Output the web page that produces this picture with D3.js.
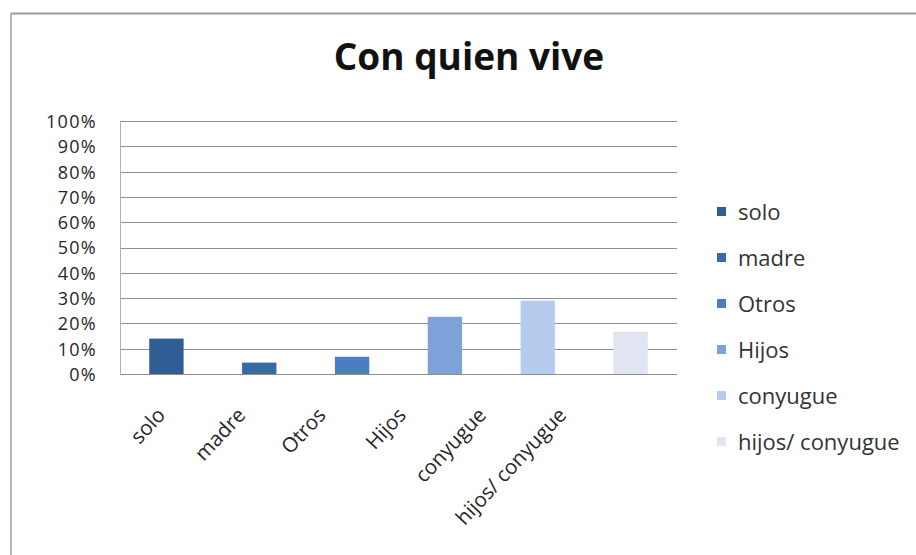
<!DOCTYPE html>
<html><head><meta charset="utf-8">
<script src="https://cdn.jsdelivr.net/npm/d3@7/dist/d3.min.js"></script>
<style>body{margin:0;background:#fff;}svg{display:block;}</style>
</head><body>
<svg id="c" width="916" height="555"></svg>
<script>
const categories = ["solo","madre","Otros","Hijos","conyugue","hijos/ conyugue"];
const values = [0.14, 0.045, 0.068, 0.226, 0.29, 0.167];
const colors = ["#2f5d94","#3a6aa6","#4b7dc0","#7ea2d8","#b6ccee","#e1e5f2"];
const yTicks = [0,0.1,0.2,0.3,0.4,0.5,0.6,0.7,0.8,0.9,1.0];
const title = "Con quien vive";

const svg = d3.select("#c");
const font = "'Open Sans', sans-serif";
// frame
svg.append("line").attr("x1",11).attr("x2",916).attr("y1",13.5).attr("y2",13.5).attr("stroke","#9a9a9a").attr("stroke-width",2);
svg.append("line").attr("x1",11).attr("x2",11).attr("y1",13).attr("y2",555).attr("stroke","#a0a0a0").attr("stroke-width",1.5);

const x = d3.scaleBand().domain(categories).range([120,677]).paddingInner(0.63).paddingOuter(0.315);
const xl = d3.scalePoint().domain(categories).range([166,567]);
const y = d3.scaleLinear().domain([0,1]).range([374,121]);

// gridlines
svg.append("g").selectAll("line").data(yTicks).join("line")
  .attr("x1",120).attr("x2",677).attr("y1",d=>Math.round(y(d))+0.5).attr("y2",d=>Math.round(y(d))+0.5)
  .attr("stroke","#8f8f8f").attr("stroke-width",1);
svg.append("line").attr("x1",120.5).attr("x2",120.5).attr("y1",121).attr("y2",375).attr("stroke","#b0b0b0");

// y axis labels
const yAxis = d3.axisLeft(y).tickValues(yTicks).tickFormat(d3.format(".0%")).tickSize(0).tickPadding(23);
const gy = svg.append("g").attr("transform","translate(120,0)").call(yAxis);
gy.select(".domain").remove();
gy.selectAll("text").attr("font-family",font).attr("font-size",18).attr("letter-spacing","1.3px")
  .attr("fill","#262626").attr("dy","0.36em");

// bars
svg.append("g").selectAll("rect").data(values).join("rect")
  .attr("x",(d,i)=>x(categories[i])).attr("width",x.bandwidth())
  .attr("y",d=>y(d)).attr("height",d=>y(0)-y(d))
  .attr("fill",(d,i)=>colors[i]);

// x labels
const xAxis = d3.axisBottom(xl).tickSize(0).tickPadding(0);
const gx = svg.append("g").attr("transform","translate(0,416)").call(xAxis);
gx.select(".domain").remove();
gx.selectAll("text").attr("font-family",font).attr("font-size",20.5).attr("fill","#262626")
  .attr("text-anchor","end").attr("dy",0).attr("y",0)
  .attr("transform","rotate(-47)");

// title
svg.append("text").attr("x",469).attr("y",70).attr("text-anchor","middle")
  .attr("font-family",font).attr("font-weight","bold").attr("font-size",37).attr("fill","#111").text(title);

// legend
const lg = svg.append("g").selectAll("g").data(categories).join("g")
  .attr("transform",(d,i)=>`translate(717,${212+i*46})`);
lg.append("rect").attr("x",0).attr("y",-5).attr("width",9).attr("height",9).attr("fill",(d,i)=>colors[i]);
lg.append("text").attr("x",21).attr("y",0).attr("dy","0.35em").attr("font-family",font).attr("font-size",22).attr("fill","#333").text(d=>d);
</script>
</body></html>
